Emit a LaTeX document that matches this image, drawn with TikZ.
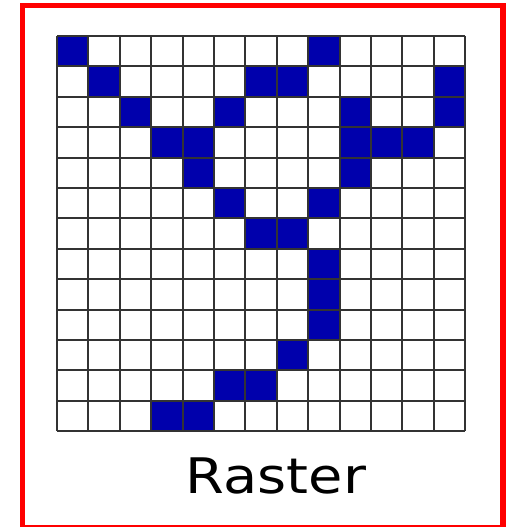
\documentclass[tikz,border=0pt]{standalone}
\usepackage{fontspec}
\setmainfont{DejaVu Sans}
\usetikzlibrary{positioning}
\definecolor{pixelblue}{RGB}{0,0,172}
\tikzset{
  pixel/.style={fill=pixelblue},
  gridline/.style={line width=2.1pt, black!80},
  frameline/.style={draw=red, line width=5.5pt}
}

\begin{document}
\begin{tikzpicture}[x=1pt, y=-1pt]
    \useasboundingbox (0,0) rectangle (510,527);
    \draw[frameline] (22.5,5.5) rectangle (503,527.8);
    % raster cells
    \begin{scope}[shift={(57,36)}, x=31.4pt, y=-30.4pt]
        \foreach \r/\c in {0/0,0/8,1/1,1/6,1/7,1/12,2/2,2/5,2/9,2/12,
                           3/3,3/4,3/9,3/10,3/11,4/4,4/9,5/5,5/8,6/6,6/7,
                           7/8,8/8,9/8,10/7,11/5,11/6,12/3,12/4}
            \fill[pixel] (\c,\r) rectangle ++(1,1);
        \foreach \i in {0,...,13} {
            \draw[gridline] (\i,0) -- (\i,13);
            \draw[gridline] (0,\i) -- (13,\i);
        }
    \end{scope}
    \node[anchor=base, font=\fontsize{49}{55}\selectfont, xscale=1.14,
          inner sep=0pt] (caption) at (276,493) {Raster};
\end{tikzpicture}
\end{document}
